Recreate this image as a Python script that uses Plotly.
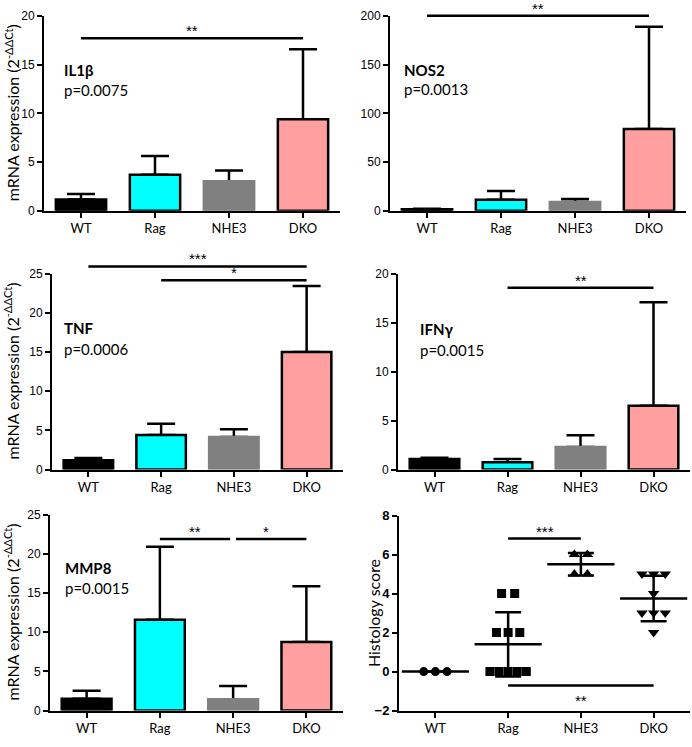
import numpy as np
import plotly.graph_objects as go

# groups and colours
groups = ["WT", "Rag", "NHE3", "DKO"]
bar_fill = ["#000000", "#00FFFF", "#808080", "#FF9F9F"]
bar_edge = ["#000000", "#000000", "#808080", "#000000"]

# qPCR panels: mean and upper SD
genes = ["IL1β", "NOS2", "TNF", "IFNγ", "MMP8"]
p_values = ["p=0.0075", "p=0.0013", "p=0.0006", "p=0.0015", "p=0.0015"]

il1b_mean = [1.15, 3.7, 3.03, 9.4]
il1b_sd = [0.58, 1.93, 1.1, 7.17]
nos2_mean = [1.5, 11.4, 9.0, 83.8]
nos2_sd = [0.5, 9.0, 3.1, 105.0]
tnf_mean = [1.17, 4.4, 4.15, 15.0]
tnf_sd = [0.3, 1.45, 1.0, 8.4]
ifng_mean = [1.07, 0.74, 2.31, 6.52]
ifng_sd = [0.13, 0.33, 1.2, 10.54]
mmp8_mean = [1.5, 11.6, 1.46, 8.75]
mmp8_sd = [1.04, 9.3, 1.67, 7.1]

y_max = [20, 200, 25, 20, 25]
y_dtick = [5, 50, 5, 5, 5]

# significance brackets: (from group, to group, height, label)
il1b_sig = [(0, 3, 17.7, "**")]
nos2_sig = [(0, 3, 200, "**")]
tnf_sig = [(0, 3, 25.9, "***"), (1, 3, 24.15, "*")]
ifng_sig = [(1, 3, 18.55, "**")]
mmp8_sig = [(1, 1.96, 21.9, "**"), (2.04, 3, 21.9, "*")]

# histology scores (individual animals)
hist_wt = [0, 0, 0]
hist_rag = [4, 4, 2, 2, 2, 0, 0, 0, 0, 0]
hist_nhe3 = [6, 6, 5, 5]
hist_dko = [5, 5, 5, 4, 3, 3, 3, 2]
hist_symbols = ["circle", "square", "triangle-up", "triangle-down"]
hist_sig = [(1, 2, 6.82, "***"), (1, 3, -0.72, "**")]

W, H = 692, 747

# panel boxes in pixels: (left, right, top, bottom)
boxes = [
    (44, 340, 9, 208),
    (390, 686, 9, 208),
    (52, 343, 272, 472),
    (398, 690, 272, 472),
    (50, 343, 518, 718),
    (399, 690, 519, 718),
]
label_pos = [(63, 64, 85), (403, 64, 84), (63, 328, 349), (419, 329, 350), (64, 572, 593)]

XR = [-0.5, 3.5]
NUM_FONT = "Liberation Sans, Arial, sans-serif"
TXT_FONT = "Lato, Open Sans, sans-serif"


def px(x):
    return x / W


def py(y):
    return 1 - y / H


def spread(n):
    step = {1: 0.0, 2: 0.18, 3: 0.16}.get(n, 0.125)
    return [(k - (n - 1) / 2) * step for k in range(n)]


fig = go.Figure()
shapes = []
annotations = []


def add_axes(n, yrange, dtick, bold=False):
    sfx = "" if n == 1 else str(n)
    l, r, t, b = boxes[n - 1]
    fig.layout["xaxis" + sfx] = dict(
        domain=[px(l), px(r)], anchor="y" + sfx, range=XR,
        tickvals=[0, 1, 2, 3], ticktext=groups,
        showline=True, linewidth=2, linecolor="black",
        ticks="outside", ticklen=5, tickwidth=2, tickcolor="black",
        showgrid=False, zeroline=False, fixedrange=True,
        tickfont=dict(family=TXT_FONT, size=13, color="black"),
    )
    fig.layout["yaxis" + sfx] = dict(
        domain=[py(b), py(t)], anchor="x" + sfx, range=yrange, dtick=dtick,
        showline=True, linewidth=2, linecolor="black",
        ticks="outside", ticklen=5, tickwidth=2, tickcolor="black",
        showgrid=False, zeroline=False, fixedrange=True,
        tickfont=dict(family=NUM_FONT, size=13 if bold else 12, color="black",
                      weight="bold" if bold else "normal"),
    )


def add_sig(n, sig, yrange):
    sfx = "" if n == 1 else str(n)
    for i0, i1, h, lab in sig:
        x0 = (i0 - XR[0]) / (XR[1] - XR[0])
        x1 = (i1 - XR[0]) / (XR[1] - XR[0])
        yf = (h - yrange[0]) / (yrange[1] - yrange[0])
        shapes.append(dict(type="line", xref="x%s domain" % sfx, yref="y%s domain" % sfx,
                           x0=x0, x1=x1, y0=yf, y1=yf,
                           line=dict(color="black", width=2.5)))
        lo = h < 0
        annotations.append(dict(
            xref="x%s domain" % sfx, yref="y%s domain" % sfx,
            x=(x0 + x1) / 2, y=yf, text=lab, showarrow=False,
            yanchor="top" if lo else "bottom", yshift=-4 if lo else -3,
            font=dict(family=NUM_FONT, size=15, color="black"),
        ))


means = [il1b_mean, nos2_mean, tnf_mean, ifng_mean, mmp8_mean]
sds = [il1b_sd, nos2_sd, tnf_sd, ifng_sd, mmp8_sd]
sigs = [il1b_sig, nos2_sig, tnf_sig, ifng_sig, mmp8_sig]
xpos = np.arange(len(groups))

for k in range(5):
    n = k + 1
    sfx = "" if n == 1 else str(n)
    # error bars first, so the bars cover the lower cap
    fig.add_trace(go.Bar(
        x=xpos, y=means[k], width=0.68, xaxis="x" + sfx, yaxis="y" + sfx,
        marker=dict(color="rgba(0,0,0,0)", line=dict(width=0)),
        error_y=dict(type="data", array=sds[k], arrayminus=[0] * 4, symmetric=False,
                     color="black", thickness=2.5, width=14),
        hoverinfo="skip",
    ))
    fig.add_trace(go.Bar(
        x=xpos, y=means[k], width=0.68, xaxis="x" + sfx, yaxis="y" + sfx,
        marker=dict(color=bar_fill, line=dict(color=bar_edge, width=2.5)),
    ))
    add_axes(n, [0, y_max[k]], y_dtick[k])
    add_sig(n, sigs[k], [0, y_max[k]])

    lx, gy, pyy = label_pos[k]
    annotations.append(dict(xref="paper", yref="paper", x=px(lx), y=py(gy), xanchor="left",
                            yanchor="middle", text="<b>%s</b>" % genes[k], showarrow=False,
                            borderpad=0,
                            font=dict(family=TXT_FONT, size=15, color="black")))
    annotations.append(dict(xref="paper", yref="paper", x=px(lx), y=py(pyy), xanchor="left",
                            yanchor="middle", text=p_values[k], showarrow=False,
                            borderpad=0,
                            font=dict(family=TXT_FONT, size=15, color="black")))

# histology panel
hist = [hist_wt, hist_rag, hist_nhe3, hist_dko]
for i, vals in enumerate(hist):
    xs, ys = [], []
    for v in sorted(set(vals), reverse=True):
        cnt = vals.count(v)
        for off in spread(cnt):
            xs.append(i + off)
            ys.append(v)
    fig.add_trace(go.Scatter(
        x=xs, y=ys, mode="markers", xaxis="x6", yaxis="y6",
        marker=dict(symbol=hist_symbols[i], size=10 if i >= 2 else 9, color="black"),
    ))

fig.add_trace(go.Scatter(
    x=xpos, y=[np.mean(v) for v in hist], mode="markers", xaxis="x6", yaxis="y6",
    marker=dict(symbol="line-ew-open", size=48, color="black",
                line=dict(color="black", width=2.5)),
    error_y=dict(type="data", array=[np.std(v, ddof=1) for v in hist],
                 color="black", thickness=2.5, width=13),
))
add_axes(6, [-2, 8], 2, bold=True)
add_sig(6, hist_sig, [-2, 8])

# y-axis titles
for n in (1, 3, 5):
    l, r, t, b = boxes[n - 1]
    annotations.append(dict(xref="paper", yref="paper", x=px(12), y=py((t + b) / 2),
                            xanchor="center", yanchor="middle", textangle=-90, showarrow=False,
                            text="mRNA expression (2<sup>-ΔΔCt</sup>)",
                            font=dict(family=TXT_FONT, size=16, color="black")))
l, r, t, b = boxes[5]
annotations.append(dict(xref="paper", yref="paper", x=px(373), y=py((t + b) / 2),
                        xanchor="center", yanchor="middle", textangle=-90, showarrow=False,
                        text="Histology score",
                        font=dict(family=TXT_FONT, size=16, color="black")))

fig.update_layout(
    width=W, height=H, margin=dict(l=0, r=0, t=0, b=0),
    plot_bgcolor="white", paper_bgcolor="white",
    showlegend=False, barmode="overlay",
    shapes=shapes, annotations=annotations,
)

fig.write_html("out.html", config={"displayModeBar": False},
               post_script="document.body.style.margin='0';")
